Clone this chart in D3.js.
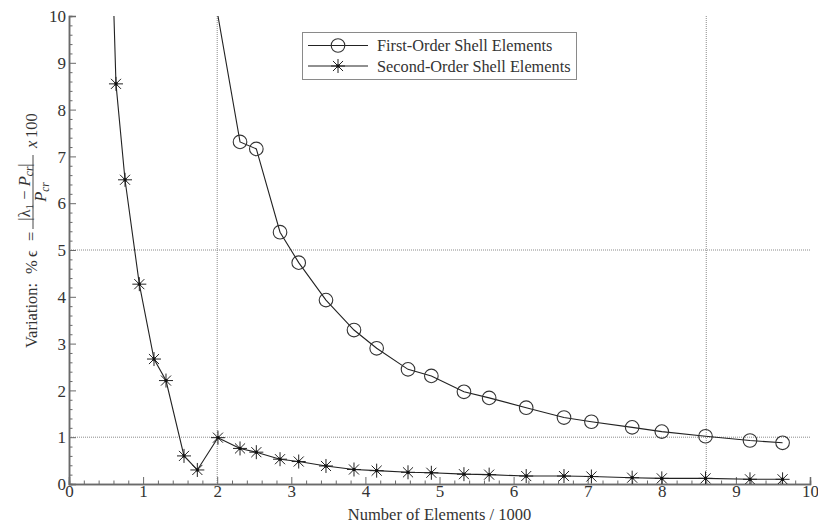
<!DOCTYPE html>
<html>
<head>
<meta charset="utf-8">
<script src="https://cdn.jsdelivr.net/npm/d3@7"></script>
<style>
  html, body { margin: 0; padding: 0; background: #fff; }
  svg { display: block; }
  svg text { font-family: "Liberation Serif", "Times New Roman", serif; }
</style>
</head>
<body>
<svg id="chart" width="818" height="525"></svg>
<script>
// Mesh size (thousands of elements) for each analysis run
const elemsSecond = [0.58, 0.634, 0.756, 0.949, 1.147, 1.309, 1.552, 1.732, 2.01, 2.308, 2.528, 2.848, 3.10, 3.468,
                     3.846, 4.152, 4.575, 4.89, 5.33, 5.67, 6.17, 6.68, 7.05, 7.60, 8.00, 8.59, 9.19, 9.63];
const errSecond   = [11.4, 8.55, 6.50, 4.27, 2.67, 2.21, 0.60, 0.30, 0.99, 0.76, 0.68, 0.53, 0.48, 0.385,
                     0.31, 0.285, 0.25, 0.24, 0.21, 0.20, 0.17, 0.17, 0.16, 0.135, 0.12, 0.12, 0.10, 0.10];

const elemsFirst  = [1.9, 2.308, 2.528, 2.848, 3.10, 3.468, 3.846, 4.152, 4.575, 4.89, 5.33, 5.67,
                     6.17, 6.68, 7.05, 7.60, 8.00, 8.59, 9.19, 9.63];
const errFirst    = [11.0, 7.31, 7.16, 5.38, 4.73, 3.93, 3.29, 2.90, 2.45, 2.31, 1.97, 1.84,
                     1.63, 1.42, 1.33, 1.21, 1.12, 1.02, 0.93, 0.88];

const xTicks = [0, 1, 2, 3, 4, 5, 6, 7, 8, 9, 10];
const yTicks = [0, 1, 2, 3, 4, 5, 6, 7, 8, 9, 10];
const gridX = [2, 8.6];
const gridY = [1, 5];
const seriesNames = ["First-Order Shell Elements", "Second-Order Shell Elements"];

const svg = d3.select("#chart");
const pL = 69, pR = 810, pT = 16, pB = 484;
const x = d3.scaleLinear().domain([0, 10]).range([pL, pR]);
const y = d3.scaleLinear().domain([0, 10]).range([pB, pT]);

const textCol = "#333", axisCol = "#6a6a6a", lineCol = "#222";

svg.append("defs").append("clipPath").attr("id", "plotClip")
  .append("rect").attr("x", pL).attr("y", pT).attr("width", pR - pL).attr("height", pB - pT);

// dotted reference lines
const grid = svg.append("g").attr("stroke", "#8a8a8a").attr("stroke-width", 1).attr("stroke-dasharray", "1,1");
gridX.forEach(v => grid.append("line").attr("x1", x(v)).attr("x2", x(v)).attr("y1", pT).attr("y2", pB));
gridY.forEach(v => grid.append("line").attr("x1", pL).attr("x2", pR).attr("y1", y(v)).attr("y2", y(v)));

// axes with inward ticks
const minorX = d3.range(0, 10.001, 0.2).map(v => +v.toFixed(1)).filter(v => !xTicks.includes(v));
const minorY = d3.range(0, 10.001, 0.2).map(v => +v.toFixed(1)).filter(v => !yTicks.includes(v));

function styleAxis(g) {
  g.attr("font-family", null).attr("font-size", null);
  g.select(".domain").attr("stroke", axisCol).attr("stroke-width", 1.5);
  g.selectAll(".tick line").attr("stroke", axisCol);
  g.selectAll(".tick text").style("font-size", "17px").attr("fill", textCol);
}

const gx = svg.append("g").attr("transform", `translate(0,${pB})`)
  .call(d3.axisBottom(x).tickValues(minorX).tickSize(-3.5).tickFormat(""));
const gxMaj = svg.append("g").attr("transform", `translate(0,${pB})`)
  .call(d3.axisBottom(x).tickValues(xTicks).tickSize(-7).tickFormat(d3.format("d")));
[gx, gxMaj].forEach(styleAxis);
gxMaj.selectAll(".tick text").attr("y", 13).attr("dy", "0");

const gy = svg.append("g").attr("transform", `translate(${pL},0)`)
  .call(d3.axisLeft(y).tickValues(minorY).tickSize(-3.5).tickFormat(""));
const gyMaj = svg.append("g").attr("transform", `translate(${pL},0)`)
  .call(d3.axisLeft(y).tickValues(yTicks).tickSize(-7).tickFormat(d3.format("d")));
[gy, gyMaj].forEach(styleAxis);
gyMaj.selectAll(".tick text").attr("x", -3).attr("dy", "0.33em");

// data series
const plot = svg.append("g").attr("clip-path", "url(#plotClip)");
const line = d3.line().x(d => x(d[0])).y(d => y(d[1]));
const first = elemsFirst.map((v, i) => [v, errFirst[i]]);
const second = elemsSecond.map((v, i) => [v, errSecond[i]]);

plot.append("path").datum(first).attr("d", line).attr("fill", "none").attr("stroke", lineCol).attr("stroke-width", 1.1);
plot.append("path").datum(second).attr("d", line).attr("fill", "none").attr("stroke", lineCol).attr("stroke-width", 1.1);

const starPath = (r) => {
  const d = r * 0.72;
  return `M${-r},0H${r}M0,${-r}V${r}M${-d},${-d}L${d},${d}M${-d},${d}L${d},${-d}`;
};
function drawCircle(g, cx, cy) {
  g.append("circle").attr("cx", cx).attr("cy", cy).attr("r", 6.8)
    .attr("fill", "none").attr("stroke", "#333").attr("stroke-width", 1.1);
}
function drawStar(g, cx, cy) {
  g.append("path").attr("transform", `translate(${cx},${cy})`).attr("d", starPath(7))
    .attr("fill", "none").attr("stroke", "#222").attr("stroke-width", 1);
  g.append("rect").attr("x", cx - 1.5).attr("y", cy - 1.5).attr("width", 3).attr("height", 3).attr("fill", "#111");
}
first.forEach(d => drawCircle(plot, x(d[0]), y(d[1])));
second.forEach(d => drawStar(plot, x(d[0]), y(d[1])));

// legend
const lg = svg.append("g");
lg.append("rect").attr("x", 302.5).attr("y", 32.5).attr("width", 274).attr("height", 47)
  .attr("fill", "#fff").attr("stroke", "#8a8a8a").attr("stroke-width", 1);
const rows = [45.5, 66];
rows.forEach((ry, i) => {
  lg.append("line").attr("x1", 308).attr("x2", 368).attr("y1", ry).attr("y2", ry)
    .attr("stroke", lineCol).attr("stroke-width", 1.1);
  if (i === 0) drawCircle(lg, 338, ry); else drawStar(lg, 338, ry);
  lg.append("text").attr("x", 377).attr("y", ry + 5.5).style("font-size", "16.3px").attr("fill", textCol)
    .text(seriesNames[i]);
});

// x-axis title
svg.append("text").attr("x", (pL + pR) / 2).attr("y", 520).attr("text-anchor", "middle")
  .style("font-size", "16.5px").attr("fill", textCol).text("Number of Elements / 1000");

// y-axis title with fraction, rotated (local x runs upward along the axis)
const yl = svg.append("g").attr("transform", "rotate(-90)").attr("fill", textCol);
const mainBase = 37;
function put(txt, at, italic) {
  return yl.append("text").attr("x", -at).attr("y", mainBase)
    .style("font-size", "16.5px").attr("font-style", italic ? "italic" : "normal").text(txt);
}
put("Variation:", 348);
put("%", 274);
put("\u03F5", 257);
put("=", 241);

// fraction spanning the title between y≈229 and y≈155
const fracA = 229, fracB = 155;
const num = yl.append("text").attr("y", 30).style("font-size", "16.5px");
num.append("tspan").text("|\u03BB");
num.append("tspan").style("font-size", "11px").attr("dy", 3).text("1");
num.append("tspan").attr("dy", -3).text(" \u2212 ");
num.append("tspan").attr("font-style", "italic").text("P");
num.append("tspan").style("font-size", "11.5px").attr("font-style", "italic").attr("dy", 3).text("cr");
num.append("tspan").attr("dy", -3).text("|");
const den = yl.append("text").attr("y", 46).style("font-size", "16.5px");
den.append("tspan").attr("font-style", "italic").text("P");
den.append("tspan").style("font-size", "11.5px").attr("font-style", "italic").attr("dy", 3).text("cr");
const nw = num.node().getComputedTextLength();
const dw = den.node().getComputedTextLength();
const mid = -(fracA + fracB) / 2;
num.attr("x", mid - nw / 2);
den.attr("x", mid - dw / 2);
yl.append("line").attr("x1", -fracA).attr("x2", -fracB).attr("y1", 33).attr("y2", 33)
  .attr("stroke", textCol).attr("stroke-width", 0.9);

put("x", 148, true);
put("100", 138);
</script>
</body>
</html>
